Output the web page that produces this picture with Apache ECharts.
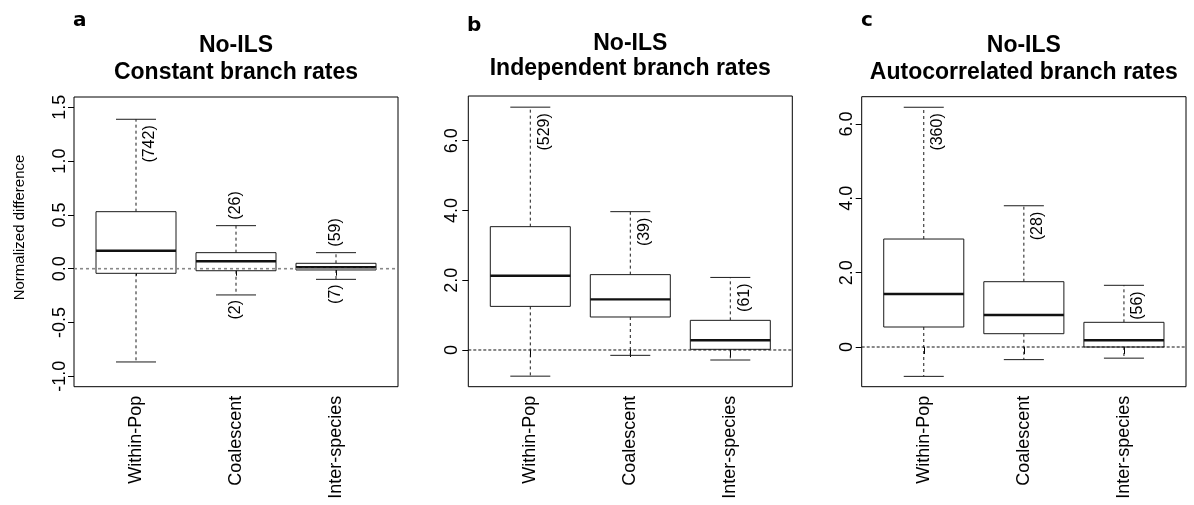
<!DOCTYPE html>
<html>
<head>
<meta charset="utf-8">
<script src="https://cdn.jsdelivr.net/npm/echarts@6/dist/echarts.min.js"></script>
<style>
html,body{margin:0;padding:0;background:#fff;}
#chart{width:1194px;height:505px;}
</style>
</head>
<body>
<div id="chart"></div>
<script>
// ---------- DATA ----------
const categories = ['Within-Pop', 'Coalescent', 'Inter-species'];
const panelLetters = ['a', 'b', 'c'];
const titleLine1 = ['No-ILS', 'No-ILS', 'No-ILS'];
const titleLine2 = ['Constant branch rates', 'Independent branch rates', 'Autocorrelated branch rates'];
const yAxisName = 'Normalized difference';

// each box: [lower whisker, Q1, median, Q3, upper whisker]
const boxesA = [[-0.867, -0.043, 0.167, 0.530, 1.389], [-0.244, -0.019, 0.069, 0.149, 0.400], [-0.099, -0.012, 0.013, 0.050, 0.149]];
const boxesB = [[-0.750, 1.250, 2.130, 3.535, 6.960], [-0.153, 0.946, 1.450, 2.160, 3.965], [-0.287, 0.020, 0.278, 0.850, 2.080]];
const boxesC = [[-0.790, 0.538, 1.426, 2.905, 6.450], [-0.340, 0.358, 0.861, 1.757, 3.800], [-0.300, 0.000, 0.180, 0.664, 1.660]];

// outlier counts above upper whisker / below lower whisker
const upperCountsA = [742, 26, 59];
const lowerCountsA = [null, 2, 7];
const upperCountsB = [529, 39, 61];
const lowerCountsB = [null, null, null];
const upperCountsC = [360, 28, 56];
const lowerCountsC = [null, null, null];

// y tick values and labels
const yTicksA = [-1, -0.5, 0, 0.5, 1, 1.5];
const yTickLabelsA = ['-1.0', '-0.5', '0.0', '0.5', '1.0', '1.5'];
const yTicksBC = [0, 2, 4, 6];
const yTickLabelsBC = ['0', '2.0', '4.0', '6.0'];

// ---------- LAYOUT / STYLE ----------
const FONT = '"Liberation Sans", Arial, sans-serif';
const panels = [
  {boxes: boxesA, up: upperCountsA, lo: lowerCountsA, upMode: ['right', 'above', 'above'],
   yMin: -1.097, yMax: 1.596, ticks: yTicksA, tickLabels: yTickLabelsA,
   grid: {left: 74, right: 796, top: 97, bottom: 118.3}, zeroStyle: {stroke: '#888', lineWidth: 1.6, lineDash: [3, 3]},
   title: [46, 72.5], letter: [73, 21], labelMargin: 5},
  {boxes: boxesB, up: upperCountsB, lo: lowerCountsB, upMode: ['right', 'right', 'right'],
   yMin: -1.052, yMax: 7.28, ticks: yTicksBC, tickLabels: yTickLabelsBC,
   grid: {left: 468.3, right: 401.7, top: 96, bottom: 118.3}, zeroStyle: {stroke: '#111', lineWidth: 1, lineDash: [3, 2]},
   title: [43.5, 68.5], letter: [467, 26], labelMargin: 7},
  {boxes: boxesC, up: upperCountsC, lo: lowerCountsC, upMode: ['right', 'right', 'right'],
   yMin: -1.068, yMax: 6.734, ticks: yTicksBC, tickLabels: yTickLabelsBC,
   grid: {left: 861.7, right: 8, top: 96.7, bottom: 118.3}, zeroStyle: {stroke: '#111', lineWidth: 1, lineDash: [3, 2]},
   title: [46, 72.5], letter: [861, 21], labelMargin: 6}
];
const modeCode = {right: 0, above: 1, below: 2};

function renderBox(params, api) {
  const x = api.value(0);
  const lo = api.coord([x, api.value(1)]);
  const q1 = api.coord([x, api.value(2)]);
  const md = api.coord([x, api.value(3)]);
  const q3 = api.coord([x, api.value(4)]);
  const hi = api.coord([x, api.value(5)]);
  const bw = api.size([0.8, 0])[0];
  const cx = lo[0];
  const half = bw / 2, cap = bw / 4;
  const solid = {stroke: '#1a1a1a', lineWidth: 1, fill: null};
  const dashed = {stroke: '#1a1a1a', lineWidth: 1, lineDash: [3, 3], fill: null};
  return {
    type: 'group',
    children: [
      {type: 'line', shape: {x1: cx, y1: q3[1], x2: cx, y2: hi[1]}, style: dashed},
      {type: 'line', shape: {x1: cx, y1: q1[1], x2: cx, y2: lo[1]}, style: dashed},
      {type: 'line', shape: {x1: cx - cap, y1: hi[1], x2: cx + cap, y2: hi[1]}, style: solid},
      {type: 'line', shape: {x1: cx - cap, y1: lo[1], x2: cx + cap, y2: lo[1]}, style: solid},
      {type: 'rect', shape: {x: cx - half, y: q3[1], width: bw, height: q1[1] - q3[1]},
       style: {fill: '#fff', stroke: '#1a1a1a', lineWidth: 1}},
      {type: 'line', shape: {x1: cx - half, y1: md[1], x2: cx + half, y2: md[1]},
       style: {stroke: '#111', lineWidth: 2.4}}
    ]
  };
}

function renderCount(params, api) {
  const x = api.value(0);
  const p = api.coord([x, api.value(1)]);
  const count = api.value(2);
  const mode = api.value(3);
  let px = p[0], py = p[1], align = 'right';
  if (mode === 0) { px = p[0] + 14; py = p[1] + 6; align = 'right'; }
  else if (mode === 1) { py = p[1] - 6; align = 'left'; }
  else { py = p[1] + 5; align = 'right'; }
  return {
    type: 'text', x: px, y: py, rotation: Math.PI / 2,
    style: {text: '(' + count + ')', font: '16px ' + FONT, fill: '#000', align: align, verticalAlign: 'middle'}
  };
}

function renderZero(params, api) {
  const cs = params.coordSys;
  const y = api.coord([1, 0])[1];
  return {type: 'line', shape: {x1: cs.x, y1: y, x2: cs.x + cs.width, y2: y}, style: params.context.zs};
}

const grids = [], xAxes = [], yAxes = [], series = [], graphics = [];
panels.forEach((P, i) => {
  grids.push(Object.assign({show: true, borderColor: '#000', borderWidth: 1, backgroundColor: 'transparent', containLabel: false}, P.grid));
  xAxes.push({
    type: 'value', gridIndex: i, min: 0.38, max: 3.62,
    axisLine: {show: false}, splitLine: {show: false},
    axisTick: {show: true, customValues: [1, 2, 3], length: 7, lineStyle: {color: '#000'}},
    axisLabel: {show: true, customValues: [1, 2, 3], rotate: 90, margin: 9, fontSize: 18, fontFamily: FONT, color: '#000',
      formatter: v => categories[Math.round(v) - 1]}
  });
  yAxes.push({
    type: 'value', gridIndex: i, min: P.yMin, max: P.yMax,
    axisLine: {show: false}, splitLine: {show: false},
    axisTick: {show: true, customValues: P.ticks, length: 6, lineStyle: {color: '#000'}},
    axisLabel: {show: true, customValues: P.ticks, rotate: 90, margin: P.labelMargin, fontSize: 18, fontFamily: FONT, color: '#000',
      formatter: v => { const k = P.ticks.findIndex(t => Math.abs(t - v) < 1e-9); return k >= 0 ? P.tickLabels[k] : ''; }}
  });
  series.push({
    type: 'custom', xAxisIndex: i, yAxisIndex: i, renderItem: renderBox, z: 2,
    encode: {x: 0, y: [1, 2, 3, 4, 5]},
    data: P.boxes.map((b, k) => [k + 1].concat(b))
  });
  const zs = P.zeroStyle;
  series.push({
    type: 'custom', xAxisIndex: i, yAxisIndex: i, z: 3,
    renderItem: (params, api) => { params.context.zs = zs; return renderZero(params, api); },
    data: [[1, 0]]
  });
  const cdata = [];
  P.boxes.forEach((b, k) => {
    if (P.up[k] != null) cdata.push([k + 1, b[4], P.up[k], modeCode[P.upMode[k]]]);
    if (P.lo[k] != null) cdata.push([k + 1, b[0], P.lo[k], modeCode.below]);
  });
  series.push({
    type: 'custom', xAxisIndex: i, yAxisIndex: i, renderItem: renderCount, z: 4,
    encode: {x: 0, y: 1}, data: cdata
  });
  const cx = P.grid.left + (1194 - P.grid.left - P.grid.right) / 2;
  graphics.push({type: 'text', x: cx, y: P.title[0], style: {text: titleLine1[i], font: 'bold 23px ' + FONT, fill: '#000', align: 'center', verticalAlign: 'middle'}});
  graphics.push({type: 'text', x: cx, y: P.title[1], style: {text: titleLine2[i], font: 'bold 23px ' + FONT, fill: '#000', align: 'center', verticalAlign: 'middle'}});
  graphics.push({type: 'text', x: P.letter[0], y: P.letter[1], style: {text: panelLetters[i], font: 'bold 20px "DejaVu Sans", sans-serif', fill: '#000', align: 'left', verticalAlign: 'middle'}});
});
graphics.push({type: 'text', x: 20, y: 227.5, rotation: Math.PI / 2,
  style: {text: yAxisName, font: '15px ' + FONT, fill: '#000', align: 'center', verticalAlign: 'middle'}});

const chart = echarts.init(document.getElementById('chart'), null, {renderer: 'canvas'});
chart.setOption({
  animation: false,
  backgroundColor: '#fff',
  grid: grids, xAxis: xAxes, yAxis: yAxes, series: series,
  graphic: graphics
});
</script>
</body>
</html>
